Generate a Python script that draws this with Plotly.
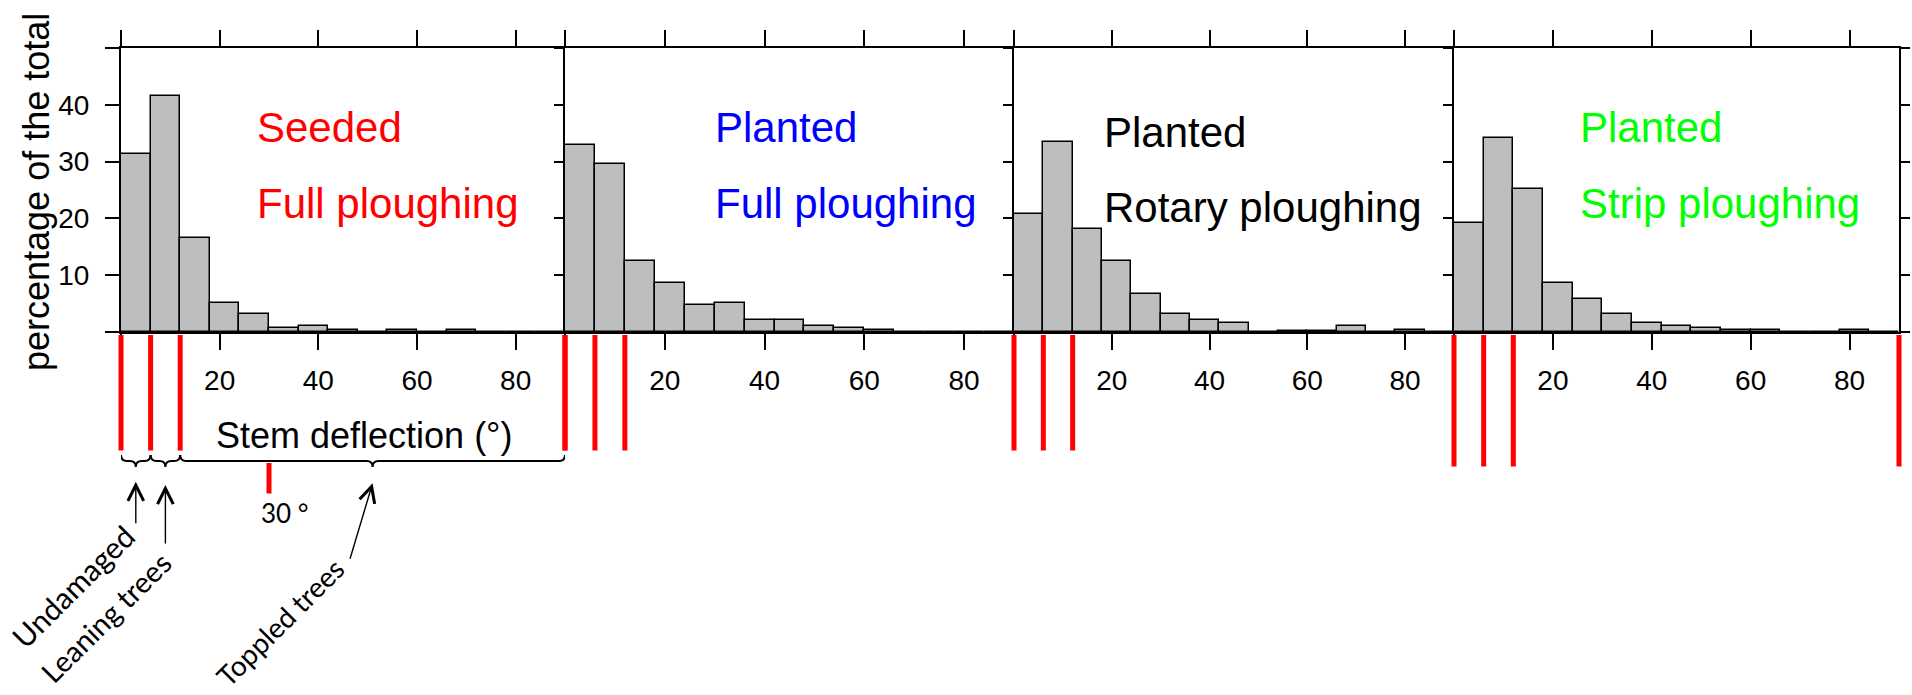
import plotly.graph_objects as go

# ---------------- data ----------------
bin_start = [0, 6, 12, 18, 24, 30, 36, 42, 48, 54, 60, 66, 72, 78, 84]
bin_width = 6

seeded_full = [31.4, 41.6, 16.5, 5.1, 3.1, 0.7, 1.1, 0.3, 0.0, 0.3, 0.0, 0.3, 0.0, 0.0, 0.0]
planted_full = [33.0, 29.5, 12.5, 8.6, 4.7, 5.1, 2.2, 2.2, 1.1, 0.7, 0.3, 0.0, 0.0, 0.0, 0.0]
planted_rotary = [20.8, 33.4, 18.1, 12.5, 6.7, 3.1, 2.2, 1.5, 0.0, 0.2, 0.2, 1.1, 0.0, 0.3, 0.0]
planted_strip = [19.2, 34.2, 25.1, 8.6, 5.8, 3.1, 1.5, 1.1, 0.7, 0.3, 0.3, 0.0, 0.0, 0.3, 0.0]

panel_values = [seeded_full, planted_full, planted_rotary, planted_strip]
panel_line1 = ["Seeded", "Planted", "Planted", "Planted"]
panel_line2 = ["Full ploughing", "Full ploughing", "Rotary ploughing", "Strip ploughing"]
panel_colors = ["#FF0000", "#0000FF", "#000000", "#00FF00"]

x_tickvals = [0, 20, 40, 60, 80]
x_ticktext = ["", "20", "40", "60", "80"]
y_tickvals = [0, 10, 20, 30, 40, 50]
y_ticktext = ["", "10", "20", "30", "40", ""]
x_range = [0, 90]
y_range = [0, 50]

# class thresholds (degrees) marked in red under each panel
red_marks = [[0, 6, 12, 90], [0, 6, 12], [0, 6, 12], [0, 6, 12, 90]]
class_bounds = [[0, 6], [6, 12], [12, 90]]  # undamaged, leaning, toppled
class_names = ["Undamaged", "Leaning trees", "Toppled trees"]
toppled_threshold = 30

# ---------------- layout geometry ----------------
W, H = 1912, 695
L, R, T, B = 121, 1899, 48, 332
def px(x):
    return (x - L) / (R - L)
def py(y):
    return (B - y) / (B - T)

domains = [[0, px(565)], [px(565), px(1014)], [px(1014), px(1454)], [px(1454), 1]]

TICKF = "Liberation Sans, Arial, sans-serif"
ARIAL = "Liberation Sans, Arial, sans-serif"
CAL = "Lato, Carlito, Calibri, sans-serif"

fig = go.Figure()
layout = dict(
    width=W, height=H,
    margin=dict(l=L, r=W - R, t=T, b=H - B, pad=0),
    paper_bgcolor="white", plot_bgcolor="white",
    showlegend=False, barmode="overlay", bargap=0,
    template="none",
)

for i, vals in enumerate(panel_values):
    n = "" if i == 0 else str(i + 1)
    fig.add_trace(go.Bar(
        x=bin_start, y=vals, width=bin_width, offset=0,
        marker=dict(color="#BEBEBE", line=dict(color="black", width=1.5)),
        xaxis="x" + n, yaxis="y" + n, hoverinfo="skip",
    ))
    layout["xaxis" + n] = dict(
        domain=domains[i], range=x_range, anchor="y" + n,
        tickvals=x_tickvals, ticktext=x_ticktext,
        ticks="outside", ticklen=16, tickwidth=1.6, tickcolor="black",
        showline=True, linewidth=2, linecolor="black", mirror="ticks",
        showgrid=False, zeroline=False,
        tickfont=dict(family=TICKF, size=28, color="black"),
        ticklabelstandoff=6,
    )
    layout["yaxis" + n] = dict(
        domain=[0, 1], range=y_range, anchor="x" + n,
        tickvals=y_tickvals, ticktext=y_ticktext,
        ticks="outside", ticklen=14 if i == 0 else 9, tickwidth=2, tickcolor="black",
        showline=True, linewidth=2, linecolor="black",
        mirror="ticks" if i == 3 else False,
        showgrid=False, zeroline=False,
        showticklabels=(i == 0),
        tickfont=dict(family=TICKF, size=28, color="black"),
        ticklabelstandoff=10,
    )

fig.update_layout(**layout)

annotations = []
shapes = []

# panel texts
text_left = [255, 713, 1102, 1578]
text_y1 = [128, 128, 132, 128]
text_y2 = [204, 204, 207, 204]
for i in range(4):
    for txt, yy in ((panel_line1[i], text_y1[i]), (panel_line2[i], text_y2[i])):
        annotations.append(dict(
            text=txt, xref="paper", yref="paper", x=px(text_left[i]), y=py(yy),
            xanchor="left", yanchor="middle", showarrow=False,
            font=dict(family=ARIAL, size=42, color=panel_colors[i]),
        ))

# red class marks below the panels (arrow-less annotation lines, not clipped)
for i, marks in enumerate(red_marks):
    n = "" if i == 0 else str(i + 1)
    y_end = 468 if i == 3 else 452
    for m in marks:
        annotations.append(dict(
            text="", xref="x" + n, yref="paper", x=m, y=py(335),
            showarrow=True, arrowhead=0, arrowwidth=5, arrowcolor="#FF0000",
            ax=0, ay=y_end - 335, axref="pixel", ayref="pixel", standoff=0,
        ))

# 30 degree mark
annotations.append(dict(
    text="", xref="x", yref="paper", x=toppled_threshold, y=py(463),
    showarrow=True, arrowhead=0, arrowwidth=5, arrowcolor="#FF0000",
    ax=0, ay=32, axref="pixel", ayref="pixel", standoff=0,
))
annotations.append(dict(text="30 °", xref="x", yref="paper", x=toppled_threshold, y=py(513),
                        xshift=16, xanchor="center", yanchor="middle", showarrow=False,
                        font=dict(family=CAL, size=26, color="black")))

# braces
yTop, yMid, yBot = py(455), py(461), py(467)
d = 1.2
for a, b in class_bounds:
    m = (a + b) / 2
    path = (f"M{a},{yTop} Q{a},{yMid} {a + d},{yMid} L{m - d},{yMid} "
            f"Q{m},{yMid} {m},{yBot} Q{m},{yMid} {m + d},{yMid} "
            f"L{b - d},{yMid} Q{b},{yMid} {b},{yTop}")
    shapes.append(dict(type="path", xref="x", yref="paper", path=path,
                       line=dict(color="black", width=2)))

# arrows
arrow_tips = [(481.7, 0, 43), (485, 0, 60), (483.3, -23, 77)]
for (a, b), (ytip, axp, ayp) in zip(class_bounds, arrow_tips):
    annotations.append(dict(
        text="", xref="x", yref="paper", x=(a + b) / 2, y=py(ytip),
        showarrow=True, arrowhead=5, arrowsize=2.2, arrowwidth=1.4, arrowcolor="black",
        ax=axp, ay=ayp, axref="pixel", ayref="pixel", standoff=0,
    ))

# rotated class labels
label_centers = [(73, 586), (105, 617), (280, 622)]
label_sizes = [30, 29, 28]
for name, (cx, cy), fs in zip(class_names, label_centers, label_sizes):
    annotations.append(dict(
        text=name, xref="paper", yref="paper", x=px(cx), y=py(cy),
        xanchor="center", yanchor="middle", textangle=-45, showarrow=False,
        font=dict(family=CAL, size=fs, color="black"),
    ))

# x axis title
annotations.append(dict(text="Stem deflection (°)", xref="paper", yref="paper",
                        x=px(364.5), y=py(435), xanchor="center", yanchor="middle",
                        showarrow=False, font=dict(family=ARIAL, size=36, color="black")))
# y axis title
annotations.append(dict(text="percentage of the total", xref="paper", yref="paper",
                        x=px(36), y=py(192), xanchor="center", yanchor="middle",
                        textangle=-90, showarrow=False,
                        font=dict(family=ARIAL, size=36, color="black")))

fig.update_layout(annotations=annotations, shapes=shapes)
fig.write_html("out.html",
               config={"displayModeBar": False},
               post_script="document.body.style.margin='0px';document.body.style.padding='0px';")
